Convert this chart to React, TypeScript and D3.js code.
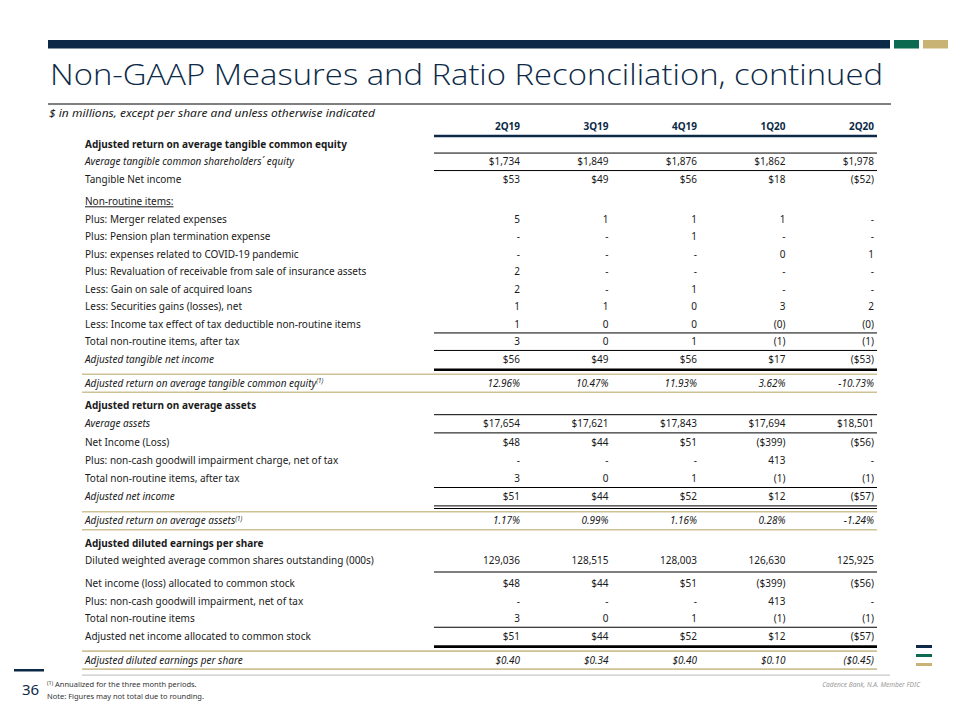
import React from 'react';
import * as d3 from 'd3';

// ---------------- DATA ----------------
const PERIODS = ['2Q19', '3Q19', '4Q19', '1Q20', '2Q20'];

const ROW_LABELS = [
  'Adjusted return on average tangible common equity',
  'Average tangible common shareholders\u00B4 equity',
  'Tangible Net income',
  'Non-routine items:',
  'Plus: Merger related expenses',
  'Plus: Pension plan termination expense',
  'Plus: expenses related to COVID-19 pandemic',
  'Plus: Revaluation of receivable from sale of insurance assets',
  'Less: Gain on sale of acquired loans',
  'Less: Securities gains (losses), net',
  'Less: Income tax effect of tax deductible non-routine items',
  'Total non-routine items, after tax',
  'Adjusted tangible net income',
  'Adjusted return on average tangible common equity',
  'Adjusted return on average assets',
  'Average assets',
  'Net Income (Loss)',
  'Plus: non-cash goodwill impairment charge, net of tax',
  'Total non-routine items, after tax',
  'Adjusted net income',
  'Adjusted return on average assets',
  'Adjusted diluted earnings per share',
  'Diluted weighted average common shares outstanding (000s)',
  'Net income (loss) allocated to common stock',
  'Plus: non-cash goodwill impairment, net of tax',
  'Total non-routine items',
  'Adjusted net income allocated to common stock',
  'Adjusted diluted earnings per share',
];

const VALUES_2Q19 = ['', '$1,734', '$53', '', '5', '-', '-', '2', '2', '1', '1', '3', '$56', '12.96%', '', '$17,654', '$48', '-', '3', '$51', '1.17%', '', '129,036', '$48', '-', '3', '$51', '$0.40'];
const VALUES_3Q19 = ['', '$1,849', '$49', '', '1', '-', '-', '-', '-', '1', '0', '0', '$49', '10.47%', '', '$17,621', '$44', '-', '0', '$44', '0.99%', '', '128,515', '$44', '-', '0', '$44', '$0.34'];
const VALUES_4Q19 = ['', '$1,876', '$56', '', '1', '1', '-', '-', '1', '0', '0', '1', '$56', '11.93%', '', '$17,843', '$51', '-', '1', '$52', '1.16%', '', '128,003', '$51', '-', '1', '$52', '$0.40'];
const VALUES_1Q20 = ['', '$1,862', '$18', '', '1', '-', '0', '-', '-', '3', '(0)', '(1)', '$17', '3.62%', '', '$17,694', '($399)', '413', '(1)', '$12', '0.28%', '', '126,630', '($399)', '413', '(1)', '$12', '$0.10'];
const VALUES_2Q20 = ['', '$1,978', '($52)', '', '-', '-', '1', '-', '-', '2', '(0)', '(1)', '($53)', '-10.73%', '', '$18,501', '($56)', '-', '(1)', '($57)', '-1.24%', '', '125,925', '($56)', '-', '(1)', '($57)', '($0.45)'];

const TITLE = 'Non-GAAP Measures and Ratio Reconciliation, continued';
const SUBTITLE = '$ in millions, except per share and unless otherwise  indicated';
const FOOTNOTE_1 = ' Annualized for the three month periods.';
const FOOTNOTE_2 = 'Note: Figures may not total due to rounding.';
const PAGE_NUMBER = '36';
const DISCLAIMER = 'Cadence Bank, N.A. Member FDIC';

// ---------------- FORMAT (layout, separate from data) ----------------
type Kind = 'head' | 'italic' | 'plain' | 'sub' | 'ratio';
type Fmt = { kind: Kind; top?: boolean; bottom?: 'thin' | 'thick' | 'double'; gap?: number; sup?: boolean };
const FORMAT: Fmt[] = [
  { kind: 'head' },
  { kind: 'italic', top: true, bottom: 'thin' },
  { kind: 'plain' },
  { kind: 'sub' },
  { kind: 'plain' },
  { kind: 'plain' },
  { kind: 'plain' },
  { kind: 'plain' },
  { kind: 'plain' },
  { kind: 'plain' },
  { kind: 'plain' },
  { kind: 'plain', top: true },
  { kind: 'italic', top: true, bottom: 'thick' },
  { kind: 'ratio', sup: true },
  { kind: 'head' },
  { kind: 'italic', top: true, bottom: 'thin' },
  { kind: 'plain' },
  { kind: 'plain' },
  { kind: 'plain' },
  { kind: 'italic', top: true, bottom: 'double' },
  { kind: 'ratio', sup: true },
  { kind: 'head' },
  { kind: 'plain', bottom: 'thin' },
  { kind: 'plain', gap: 5.5 },
  { kind: 'plain' },
  { kind: 'plain' },
  { kind: 'plain', top: true, bottom: 'thick' },
  { kind: 'ratio' },
];

const NAVY = '#0c2a47';
const GREEN = '#0b6a4f';
const GOLD = '#c9b374';
const RULE_GOLD = '#cfc196';
const TEXT = '#1a1a1a';
const FONT = '"Noto Sans", "Open Sans", sans-serif';

export default function App() {
  const columns = [VALUES_2Q19, VALUES_3Q19, VALUES_4Q19, VALUES_1Q20, VALUES_2Q20];

  const x = d3.scaleBand<string>().domain(PERIODS).range([431.5, 874]).paddingInner(0);
  const colRight = (p: string) => (x(p) as number) + x.bandwidth();
  const lineX0 = 434;
  const lineX1 = 877;
  const labelX = 85;
  const goldX0 = 82;

  // row centers computed cumulatively
  const pitch = [17.5, 18.2, 17.5];
  let section = 0;
  let yy = 144.3;
  const centers: number[] = FORMAT.map((f, i) => {
    if (i === 0) return yy;
    let g: number;
    if (f.kind === 'ratio') g = 24.1;
    else if (f.kind === 'head') { section += 1; g = 22.3; }
    else if (f.kind === 'sub') g = 22.4;
    else g = pitch[section] + (f.gap || 0);
    yy += g;
    return yy;
  });

  const lines: JSX.Element[] = [];
  FORMAT.forEach((f, i) => {
    const c = centers[i];
    if (f.top) {
      const y = (centers[i - 1] + c) / 2;
      lines.push(<line key={`t${i}`} x1={lineX0} x2={lineX1} y1={y} y2={y} stroke="#000" strokeWidth={1} />);
    }
    if (f.bottom) {
      const next = FORMAT[i + 1];
      const y = next && next.kind === 'ratio' ? centers[i + 1] - 13.5 : (c + centers[i + 1]) / 2;
      if (f.bottom === 'thin') lines.push(<line key={`b${i}`} x1={lineX0} x2={lineX1} y1={y} y2={y} stroke="#000" strokeWidth={1} />);
      if (f.bottom === 'thick') lines.push(<line key={`b${i}`} x1={lineX0} x2={lineX1} y1={y} y2={y} stroke="#000" strokeWidth={2.6} />);
      if (f.bottom === 'double') {
        lines.push(<line key={`b${i}a`} x1={lineX0} x2={lineX1} y1={y - 1.3} y2={y - 1.3} stroke="#000" strokeWidth={1} />);
        lines.push(<line key={`b${i}b`} x1={lineX0} x2={lineX1} y1={y + 1.3} y2={y + 1.3} stroke="#000" strokeWidth={1} />);
      }
    }
    if (f.kind === 'ratio') {
      lines.push(<line key={`g${i}a`} x1={goldX0} x2={lineX1} y1={c - 9} y2={c - 9} stroke={RULE_GOLD} strokeWidth={1.6} />);
      lines.push(<line key={`g${i}b`} x1={goldX0} x2={lineX1} y1={c + 9} y2={c + 9} stroke={RULE_GOLD} strokeWidth={1.6} />);
    }
  });

  const lastCenter = centers[centers.length - 1];
  const fs = 10;

  return (
    <svg width={960} height={720} style={{ position: 'absolute', left: 0, top: 0, background: '#fff' }} fontFamily={FONT}>
      {/* header band */}
      <rect x={48} y={40} width={842} height={8.5} fill={NAVY} />
      <rect x={894} y={40} width={25} height={8.5} fill={GREEN} />
      <rect x={923} y={40} width={25} height={8.5} fill={GOLD} />

      <text x={50} y={85} fontSize={29} fill={NAVY} fontFamily='"Open Sans", sans-serif' fontWeight={300}
        textLength={833} lengthAdjust="spacingAndGlyphs">{TITLE}</text>
      <line x1={48} x2={891} y1={104} y2={104} stroke="#000" strokeWidth={1} />
      <text x={49} y={116.5} fontSize={11} fontStyle="italic" fill={TEXT}
        textLength={326} lengthAdjust="spacingAndGlyphs">{SUBTITLE}</text>

      {/* column headers */}
      {PERIODS.map(p => (
        <text key={p} x={colRight(p)} y={130.4} textAnchor="end" fontSize={fs} fontWeight={700} fill={NAVY}>{p}</text>
      ))}
      <line x1={lineX0} x2={lineX1} y1={136} y2={136} stroke={NAVY} strokeWidth={2.6} />

      {lines}

      {/* labels */}
      {ROW_LABELS.map((lab, i) => {
        const f = FORMAT[i];
        const italic = f.kind === 'italic' || f.kind === 'ratio';
        return (
          <text key={`l${i}`} x={labelX} y={centers[i] + 3.6} fontSize={fs}
            fontWeight={f.kind === 'head' ? 700 : 400}
            fontStyle={italic ? 'italic' : 'normal'}
            textDecoration={f.kind === 'sub' ? 'underline' : undefined}
            fill={TEXT}>
            {lab}
            {f.sup ? <tspan dy={-3.5} fontSize={6.2}>(1)</tspan> : null}
          </text>
        );
      })}

      {/* values */}
      {PERIODS.map((p, j) => columns[j].map((v, i) => v === '' ? null : (
        <text key={`v${j}-${i}`} x={colRight(p)} y={centers[i] + 3.6} textAnchor="end" fontSize={fs}
          fontStyle={FORMAT[i].kind === 'ratio' ? 'italic' : 'normal'} fill={TEXT}>{v}</text>
      )))}

      {/* bottom rule & footer */}
      <line x1={goldX0} x2={890} y1={lastCenter + 15} y2={lastCenter + 15} stroke="#c8c8c8" strokeWidth={1.2} />
      <rect x={14} y={669} width={30} height={2.5} fill={NAVY} />
      <text x={22} y={695} fontSize={15} fill={NAVY}>{PAGE_NUMBER}</text>
      <text x={47} y={687} fontSize={7.5} fill="#333">
        <tspan dy={-2} fontSize={5.2}>(1)</tspan>
        <tspan dy={2}>{FOOTNOTE_1}</tspan>
      </text>
      <text x={47} y={699} fontSize={7.5} fill="#333">{FOOTNOTE_2}</text>
      <text x={920} y={687} textAnchor="end" fontSize={6.6} fontStyle="italic" fill="#9a9a9a">{DISCLAIMER}</text>

      <rect x={916} y={645} width={16} height={3} fill={NAVY} />
      <rect x={916} y={654} width={16} height={3} fill={GREEN} />
      <rect x={916} y={663} width={16} height={3} fill={GOLD} />
    </svg>
  );
}
